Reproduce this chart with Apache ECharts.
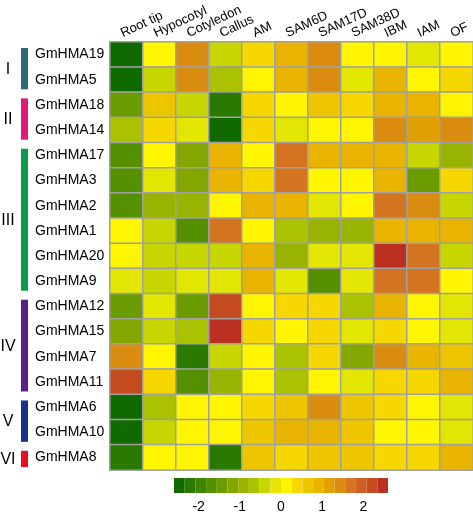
<!DOCTYPE html>
<html><head><meta charset="utf-8">
<script src="https://cdn.jsdelivr.net/npm/echarts@6/dist/echarts.min.js"></script>
<style>html,body{margin:0;padding:0;background:#fff}#c{width:473px;height:514px}</style>
</head><body><div id="c"></div>
<script>
const tissues = ['Root tip','Hypocotyl','Cotyledon','Callus','AM','SAM6D','SAM17D','SAM38D','IBM','IAM','OF'];
const genes = ['GmHMA19','GmHMA5','GmHMA18','GmHMA14','GmHMA17','GmHMA3','GmHMA2','GmHMA1','GmHMA20','GmHMA9','GmHMA12','GmHMA15','GmHMA7','GmHMA11','GmHMA6','GmHMA10','GmHMA8'];

const GmHMA19 = [-2.5, 0.05, 1.4, -0.4, 0.5, 0.8, 1.4, 0.05, 0.05, -0.2, 0.05];
const GmHMA5  = [-2.5, -0.4, 1.4, -0.7, 0.1, 0.9, 1.4, -0.2, 0.8, 0.1, 0.4];
const GmHMA18 = [-1.5, 0.7, -0.4, -2.2, 0.5, 0.1, 0.7, 0.4, 0.9, 0.9, 0.1];
const GmHMA14 = [-0.7, 0.5, -0.2, -2.5, 0.5, -0.2, 0.1, 0.1, 1.4, 1.1, 1.4];
const GmHMA17 = [-1.8, 0.1, -1.1, 1.0, 0.1, 1.6, 0.9, 0.8, 0.8, -0.5, -0.8];
const GmHMA3  = [-1.6, -0.1, -1.1, 0.9, 0.4, 1.8, 0.1, 0.1, 0.8, -1.4, 0.4];
const GmHMA2  = [-1.6, -0.8, -1.0, 0.1, 0.9, 0.8, -0.2, 0.1, 1.8, 1.4, -0.5];
const GmHMA1  = [0.05, -0.5, -1.8, 1.6, 0.1, -0.7, -0.9, -0.9, 1.0, 1.0, 1.0];
const GmHMA20 = [0.1, -0.5, -0.5, -0.5, 0.8, -0.9, -0.2, -0.2, 2.4, 1.6, -0.5];
const GmHMA9  = [-0.2, -0.5, -0.2, -0.2, 0.8, -0.2, -1.8, -0.2, 1.8, 1.8, 0.1];
const GmHMA12 = [-1.4, -0.2, -1.4, 2.3, 0.1, 0.5, 0.5, -0.6, 0.8, 0.1, -0.1];
const GmHMA15 = [-1.3, -0.4, -0.7, 2.5, 0.4, 0.1, 0.4, -0.2, 0.4, 0.1, -0.2];
const GmHMA7  = [1.4, 0.1, -2.2, -0.4, 0.1, -0.7, 0.4, -1.2, 1.4, 1.0, 0.7];
const GmHMA11 = [2.1, 0.4, -1.8, -1.0, 0.1, -0.7, 0.1, -0.2, 0.4, 0.4, 1.0];
const GmHMA6  = [-2.5, -0.7, 0.1, 0.1, 0.4, 0.7, 1.4, 0.7, 0.5, 0.1, -0.2];
const GmHMA10 = [-2.5, -0.4, 0.1, 0.1, 0.7, 1.0, 1.0, 0.7, 0.1, 0.1, -0.2];
const GmHMA8  = [-2.2, 0.1, 0.1, -2.2, 0.7, 0.4, 0.7, 0.7, 0.4, 0.5, 1.0];
const rowValues = [GmHMA19, GmHMA5, GmHMA18, GmHMA14, GmHMA17, GmHMA3, GmHMA2, GmHMA1, GmHMA20, GmHMA9, GmHMA12, GmHMA15, GmHMA7, GmHMA11, GmHMA6, GmHMA10, GmHMA8];

const groupLabels = ['I','II','III','IV','V','VI'];
const groupSizes = [2, 2, 6, 4, 2, 1];
const groupColors = ['#2e6b78', '#e0187a', '#0a9a4a', '#5a2088', '#1a3090', '#e81020'];

const scaleTicks = [-3, -2, -1, 0, 1, 2, 3];
const scaleMin = -2.6, scaleMax = 2.6;
const palette = ['#0f6b00','#2a7a00','#3f8500','#559000','#6a9c00','#82a800','#98b400','#aac200','#c8d600','#e2e600',
                 '#fff500','#f6d800','#eec600','#e8b400','#e0a000','#da8c10','#d47420','#cc6020','#c44a20','#bb3020'];

const step = (scaleMax - scaleMin) / palette.length;
const pieces = palette.map((c, i) => i === palette.length - 1
  ? {gte: scaleMin + step * i, lte: scaleMax + 1, color: c}
  : (i === 0 ? {gte: scaleMin - 1, lt: scaleMin + step * (i + 1), color: c}
             : {gte: scaleMin + step * i, lt: scaleMin + step * (i + 1), color: c}));

const data = [];
rowValues.forEach((row, r) => row.forEach((v, c) => data.push([c, r, v])));

const FONT = "'Liberation Sans', Arial, sans-serif";
const chart = echarts.init(document.getElementById('c'));
chart.setOption({
  animation: false,
  grid: [
    {left: 110, top: 42, width: 363, height: 428},
    {left: 157.5, top: 490, width: 247, height: 3},
    {left: 105, top: 42, width: 363, height: 428}
  ],
  xAxis: [
    {type: 'category', data: tissues, position: 'top', gridIndex: 0,
     axisLine: {show: false}, axisTick: {show: false}, splitLine: {show: false}, axisLabel: {show: false}},
    {type: 'value', gridIndex: 1, min: scaleTicks[0], max: scaleTicks[scaleTicks.length - 1], interval: 1,
     axisLine: {show: false, onZero: false}, axisTick: {show: false}, splitLine: {show: false},
     axisLabel: {fontSize: 14, color: '#000', margin: 8, fontFamily: FONT, showMinLabel: false, showMaxLabel: false}},
    {type: 'category', data: tissues, position: 'top', gridIndex: 2,
     axisLine: {show: false, onZero: false}, axisTick: {show: false}, splitLine: {show: false},
     axisLabel: {rotate: -25, fontSize: 13, color: '#000', margin: 8, interval: 0, fontFamily: FONT}}
  ],
  yAxis: [
    {type: 'category', data: genes, inverse: true, gridIndex: 0,
     axisLine: {show: false}, axisTick: {show: false}, splitLine: {show: false},
     axisLabel: {fontSize: 14, color: '#000', align: 'left', margin: 75, fontFamily: FONT, padding: [3, 0, 0, 0]}},
    {type: 'value', gridIndex: 1, show: false},
    {type: 'category', data: genes, inverse: true, gridIndex: 2, show: false}
  ],
  visualMap: {
    type: 'piecewise', orient: 'horizontal', left: 174, top: 478, padding: 0,
    itemWidth: 10.7, itemHeight: 15, itemGap: 0, itemSymbol: 'rect', showLabel: false,
    selectedMode: false, hoverLink: false, pieces: pieces, seriesIndex: 0
  },
  series: [{
    type: 'heatmap', xAxisIndex: 0, yAxisIndex: 0, data: data,
    itemStyle: {borderColor: '#a0a0a0', borderWidth: 1.5},
    emphasis: {disabled: true}
  }]
});

// group bars and labels
const graphics = [];
let start = 0;
groupLabels.forEach((lab, g) => {
  const end = start + groupSizes[g] - 1;
  const pTop = chart.convertToPixel({xAxisIndex: 0, yAxisIndex: 0}, [0, start]);
  const pBot = chart.convertToPixel({xAxisIndex: 0, yAxisIndex: 0}, [0, end]);
  const half = 428 / genes.length / 2;
  const y0 = pTop[1] - half + 6;
  const y1 = pBot[1] + half - 3;
  graphics.push({type: 'rect', shape: {x: 21, y: y0, width: 7, height: y1 - y0}, style: {fill: groupColors[g]}});
  const yc = (pTop[1] + pBot[1]) / 2 + 2;
  graphics.push({type: 'text', x: 8, y: yc, style: {text: lab, fontSize: 16, fontFamily: FONT, fill: '#000',
    textAlign: 'center', textVerticalAlign: 'middle', align: 'center', verticalAlign: 'middle'}});
  start = end + 1;
});
chart.setOption({graphic: graphics});
</script></body></html>
